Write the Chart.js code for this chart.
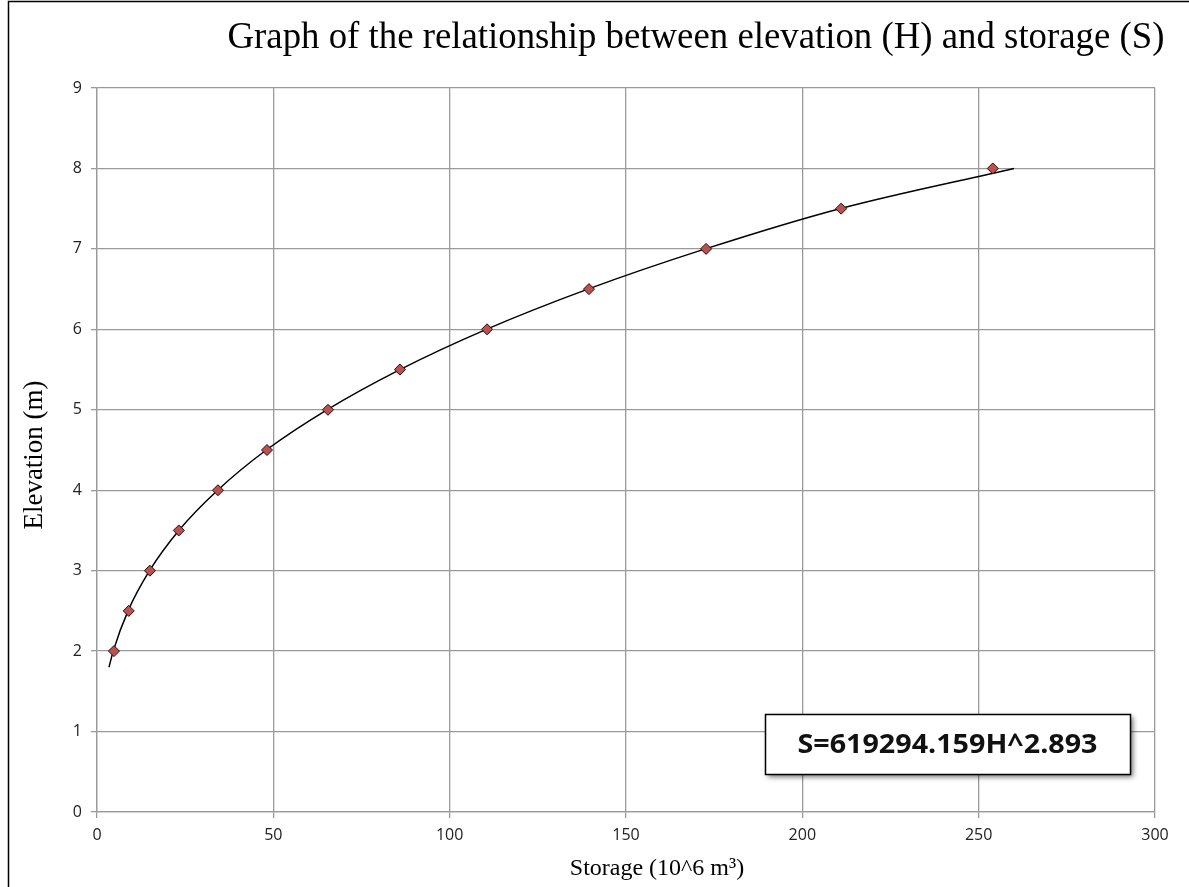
<!DOCTYPE html>
<html>
<head>
<meta charset="utf-8">
<script src="https://cdn.jsdelivr.net/npm/chart.js@4"></script>
<style>
  html, body { margin: 0; padding: 0; background: #fff; }
  #wrap { position: relative; width: 1189px; height: 887px; }
</style>
</head>
<body>
<div id="wrap"><canvas id="hsChart" width="1189" height="887"></canvas></div>
<script>
// observed points (storage in 10^6 m3, elevation in m)
var storage = [4.8, 9.0, 15.0, 23.2, 34.3, 48.2, 65.5, 85.9, 110.6, 139.5, 172.7, 211.0, 254.0];
var elevation = [2, 2.5, 3, 3.5, 4, 4.5, 5, 5.5, 6, 6.5, 7, 7.5, 8];

// fitted power curve
var trendStorage = [3.4, 4.6, 8.8, 14.9, 23.2, 34.2, 48.0, 65.2, 85.9, 110.4, 139.2, 172.5, 210.6, 260.0];
var trendElevation = [1.8, 2, 2.5, 3, 3.5, 4, 4.5, 5, 5.5, 6, 6.5, 7, 7.5, 8.0];

var xTicks = [0, 50, 100, 150, 200, 250, 300];
var yTicks = [0, 1, 2, 3, 4, 5, 6, 7, 8, 9];

var titleText = 'Graph of the relationship between elevation (H) and storage (S)';
var xLabel = 'Storage (10^6 m\u00b3)';
var yLabel = 'Elevation (m)';
var equationText = 'S=619294.159H^2.893';

function pairs(xs, ys) {
    return xs.map(function(x, i) { return {x: x, y: ys[i]}; });
}

var decorPlugin = {
    id: 'decor',
    beforeDraw: function(chart) {
        var c = chart.ctx;
        c.save();
        c.fillStyle = '#fff';
        c.fillRect(0, 0, chart.width, chart.height);
        // outer frame (top and left visible)
        c.strokeStyle = '#000';
        c.lineWidth = 1.5;
        c.beginPath();
        c.moveTo(8.5, chart.height);
        c.lineTo(8.5, 1.5);
        c.lineTo(chart.width, 1.5);
        c.stroke();
        c.restore();
    },
    afterDraw: function(chart) {
        var c = chart.ctx;
        c.save();
        c.fillStyle = '#000';

        // title, condensed like the original
        c.font = '37px "Liberation Serif", "Times New Roman", serif';
        c.textAlign = 'center';
        c.textBaseline = 'alphabetic';
        var w = c.measureText(titleText).width;
        c.save();
        c.translate(696, 48);
        c.scale(937 / w, 1);
        c.fillText(titleText, 0, 0);
        c.restore();

        c.textBaseline = 'middle';
        // x axis title
        c.font = '24px "Liberation Serif", "Times New Roman", serif';
        c.fillText(xLabel, 657, 869);

        // y axis title
        c.save();
        c.translate(35, 455);
        c.rotate(-Math.PI / 2);
        c.font = '27px "Liberation Serif", "Times New Roman", serif';
        c.fillText(yLabel, 0, 0);
        c.restore();

        // equation box with shadow
        var bx = 765, by = 714, bw = 365, bh = 60;
        c.save();
        c.shadowColor = 'rgba(0,0,0,0.55)';
        c.shadowBlur = 5;
        c.shadowOffsetX = 3;
        c.shadowOffsetY = 3;
        c.fillStyle = '#fff';
        c.fillRect(bx, by, bw, bh);
        c.restore();
        c.strokeStyle = '#000';
        c.lineWidth = 1.5;
        c.strokeRect(bx + 0.5, by + 0.5, bw, bh);
        c.fillStyle = '#111';
        c.font = 'bold 27px "Open Sans", sans-serif';
        var ew = c.measureText(equationText).width;
        c.save();
        c.translate(bx + bw / 2, by + bh / 2 + 1);
        c.scale(300 / ew, 1);
        c.fillText(equationText, 0, 0);
        c.restore();

        c.restore();
    }
};

var ctx = document.getElementById('hsChart').getContext('2d');

var hsChart = new Chart(ctx, {
    type: 'scatter',
    data: {
        datasets: [{
            label: 'Trend',
            type: 'line',
            data: pairs(trendStorage, trendElevation),
            borderColor: '#000',
            borderWidth: 1.5,
            pointRadius: 0,
            fill: false,
            cubicInterpolationMode: 'monotone',
            order: 2
        },
        {
            label: 'Observed',
            data: pairs(storage, elevation),
            pointStyle: 'rectRot',
            pointRadius: 5.5,
            pointBackgroundColor: '#c0504d',
            pointBorderColor: '#2b0a0a',
            pointBorderWidth: 1,
            order: 1
        }]
    },
    options: {
        responsive: false,
        animation: false,
        layout: {
            padding: { left: 0, right: 34, top: 88, bottom: 0 }
        },
        plugins: {
            legend: { display: false },
            title: { display: false },
            tooltip: { enabled: false }
        },
        scales: {
            x: {
                type: 'linear',
                min: 0,
                max: 300,
                afterBuildTicks: function(axis) {
                    axis.ticks = xTicks.map(function(v) { return {value: v}; });
                },
                afterFit: function(axis) { axis.height = 75; },
                grid: { color: '#9a9a9a', lineWidth: 1.3, tickLength: 6 },
                border: { color: '#9a9a9a', width: 1.3 },
                ticks: {
                    color: '#222',
                    padding: 8,
                    maxRotation: 0,
                    font: { family: '"Open Sans", sans-serif', size: 16 }
                }
            },
            y: {
                type: 'linear',
                min: 0,
                max: 9,
                afterBuildTicks: function(axis) {
                    axis.ticks = yTicks.map(function(v) { return {value: v}; });
                },
                afterFit: function(axis) { axis.width = 97; },
                grid: { color: '#9a9a9a', lineWidth: 1.3, tickLength: 6 },
                border: { color: '#9a9a9a', width: 1.3 },
                ticks: {
                    color: '#222',
                    padding: 9,
                    font: { family: '"Open Sans", sans-serif', size: 16 }
                }
            }
        }
    },
    plugins: [decorPlugin]
});
</script>
</body>
</html>
